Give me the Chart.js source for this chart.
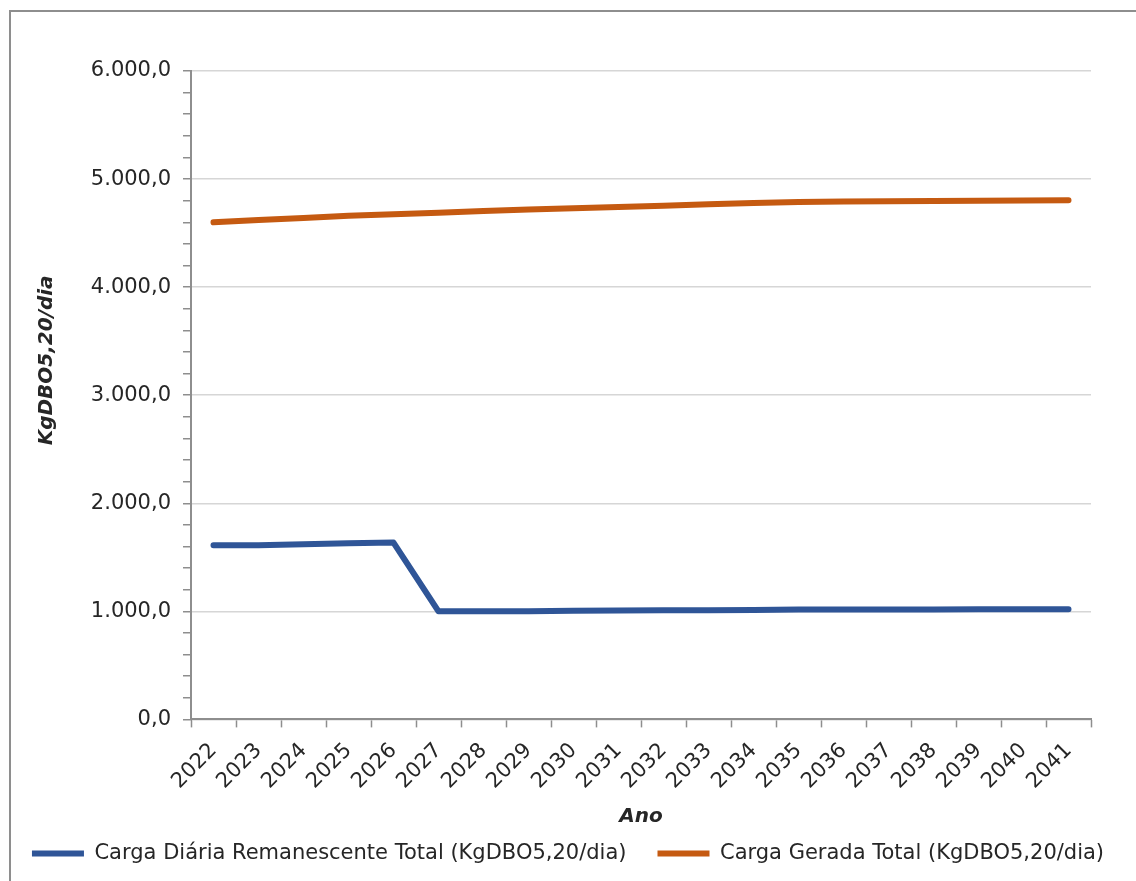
<!DOCTYPE html>
<html lang="pt-BR">
<head>
<meta charset="utf-8">
<title>Carga orgânica total</title>
<script src="https://cdn.jsdelivr.net/npm/chart.js@4.4.1/dist/chart.umd.min.js"></script>
<style>
  html, body { margin: 0; padding: 0; background: #ffffff; overflow: hidden; }
  #wrap { position: relative; width: 1136px; height: 881px; overflow: hidden; }
  .moldura { position: absolute; background: #8e8e8e; }
  #moldura-topo { left: 9px; top: 10px; width: 1127px; height: 2px; }
  #moldura-esq { left: 9px; top: 10px; width: 2px; height: 871px; }
  #chart { position: absolute; left: 0; top: 0; }
</style>
</head>
<body>
<div id="wrap">
  <div class="moldura" id="moldura-topo"></div>
  <div class="moldura" id="moldura-esq"></div>
  <canvas id="chart" width="1136" height="881"></canvas>
</div>
<script>
// Anos do horizonte de planejamento
const anos = ['2022','2023','2024','2025','2026','2027','2028','2029','2030','2031',
              '2032','2033','2034','2035','2036','2037','2038','2039','2040','2041'];

// Carga diária remanescente total (KgDBO5,20/dia)
const cargaRemanescente = [1611, 1612, 1620, 1630, 1636, 1000, 1000, 1001, 1005, 1008,
                           1010, 1010, 1012, 1016, 1018, 1018, 1018, 1019, 1019, 1019];

// Carga gerada total (KgDBO5,20/dia)
const cargaGerada = [4600, 4622, 4640, 4660, 4675, 4688, 4705, 4718, 4730, 4742,
                     4754, 4766, 4778, 4788, 4792, 4794, 4796, 4800, 4802, 4803];

const nomesSeries = ['Carga Diária Remanescente Total (KgDBO5,20/dia)',
                     'Carga Gerada Total (KgDBO5,20/dia)'];

const FONTE = '"DejaVu Sans", "Noto Sans", sans-serif';
const TEXTO = '#262626';

// 6000 -> "6.000,0"
function formatoBR(v) {
  const inteiro = Math.round(v).toString().replace(/\B(?=(\d{3})+(?!\d))/g, '.');
  return inteiro + ',0';
}

new Chart(document.getElementById('chart'), {
  type: 'line',
  data: {
    labels: anos,
    datasets: [
      {
        label: nomesSeries[0],
        data: cargaRemanescente,
        borderColor: '#2f5597',
        backgroundColor: '#2f5597',
        borderWidth: 6,
        borderCapStyle: 'round',
        borderJoinStyle: 'round',
        pointRadius: 0,
        pointHoverRadius: 0,
        pointStyle: 'line',
        tension: 0
      },
      {
        label: nomesSeries[1],
        data: cargaGerada,
        borderColor: '#c55a11',
        backgroundColor: '#c55a11',
        borderWidth: 6,
        borderCapStyle: 'round',
        borderJoinStyle: 'round',
        pointRadius: 0,
        pointHoverRadius: 0,
        pointStyle: 'line',
        tension: 0
      }
    ]
  },
  options: {
    responsive: false,
    devicePixelRatio: 1,
    animation: false,
    layout: { padding: { top: 71, right: 0, bottom: 7, left: 0 } },
    plugins: {
      tooltip: { enabled: false },
      legend: {
        position: 'bottom',
        labels: {
          usePointStyle: true,
          pointStyleWidth: 52,
          boxHeight: 21,
          padding: 10,
          color: TEXTO,
          font: { family: FONTE, size: 21 },
          // espaço extra depois do primeiro item da legenda
          generateLabels: (chart) => {
            const itens = Chart.defaults.plugins.legend.labels.generateLabels(chart);
            itens.forEach((it, i) => { if (i === 0) it.text = it.text + '\u2003'; });
            return itens;
          }
        }
      }
    },
    scales: {
      x: {
        offset: true,
        grid: {
          offset: true,
          drawOnChartArea: false,
          drawTicks: true,
          tickLength: 8,
          tickColor: '#8e8e8e',
          tickWidth: 1.5
        },
        border: { color: '#8e8e8e', width: 2 },
        ticks: {
          maxRotation: 45,
          minRotation: 45,
          autoSkip: false,
          padding: 11,
          color: TEXTO,
          font: { family: FONTE, size: 21 }
        },
        title: {
          display: true,
          text: 'Ano',
          color: TEXTO,
          padding: { top: 0, bottom: 4 },
          font: { family: FONTE, size: 20, weight: 'bold', style: 'italic' }
        }
      },
      y: {
        min: 0,
        max: 6000,
        afterFit: (escala) => { escala.width = 191; },
        grid: {
          color: (ctx) => (ctx.tick && ctx.tick.value % 1000 === 0 ? '#d6d6d6' : 'rgba(0,0,0,0)'),
          lineWidth: 1.5,
          drawTicks: true,
          tickLength: 8,
          tickColor: '#8e8e8e',
          tickWidth: 1.5
        },
        border: { color: '#8e8e8e', width: 2 },
        ticks: {
          stepSize: 200,
          autoSkip: false,
          padding: 12,
          color: TEXTO,
          font: { family: FONTE, size: 21 },
          callback: (v) => (v % 1000 === 0 ? formatoBR(v) : '')
        },
        title: {
          display: true,
          // espaços à esquerda deslocam o título para cima no eixo
          text: '          KgDBO5,20/dia',
          color: TEXTO,
          padding: { top: 35, bottom: 0 },
          font: { family: FONTE, size: 20, weight: 'bold', style: 'italic' }
        }
      },
      // margem vazia à direita da área de plotagem
      margemDir: {
        type: 'linear',
        position: 'right',
        display: true,
        afterFit: (escala) => { escala.width = 45; },
        grid: { display: false, drawTicks: false },
        border: { display: false },
        ticks: { display: false }
      }
    }
  }
});
</script>
</body>
</html>
